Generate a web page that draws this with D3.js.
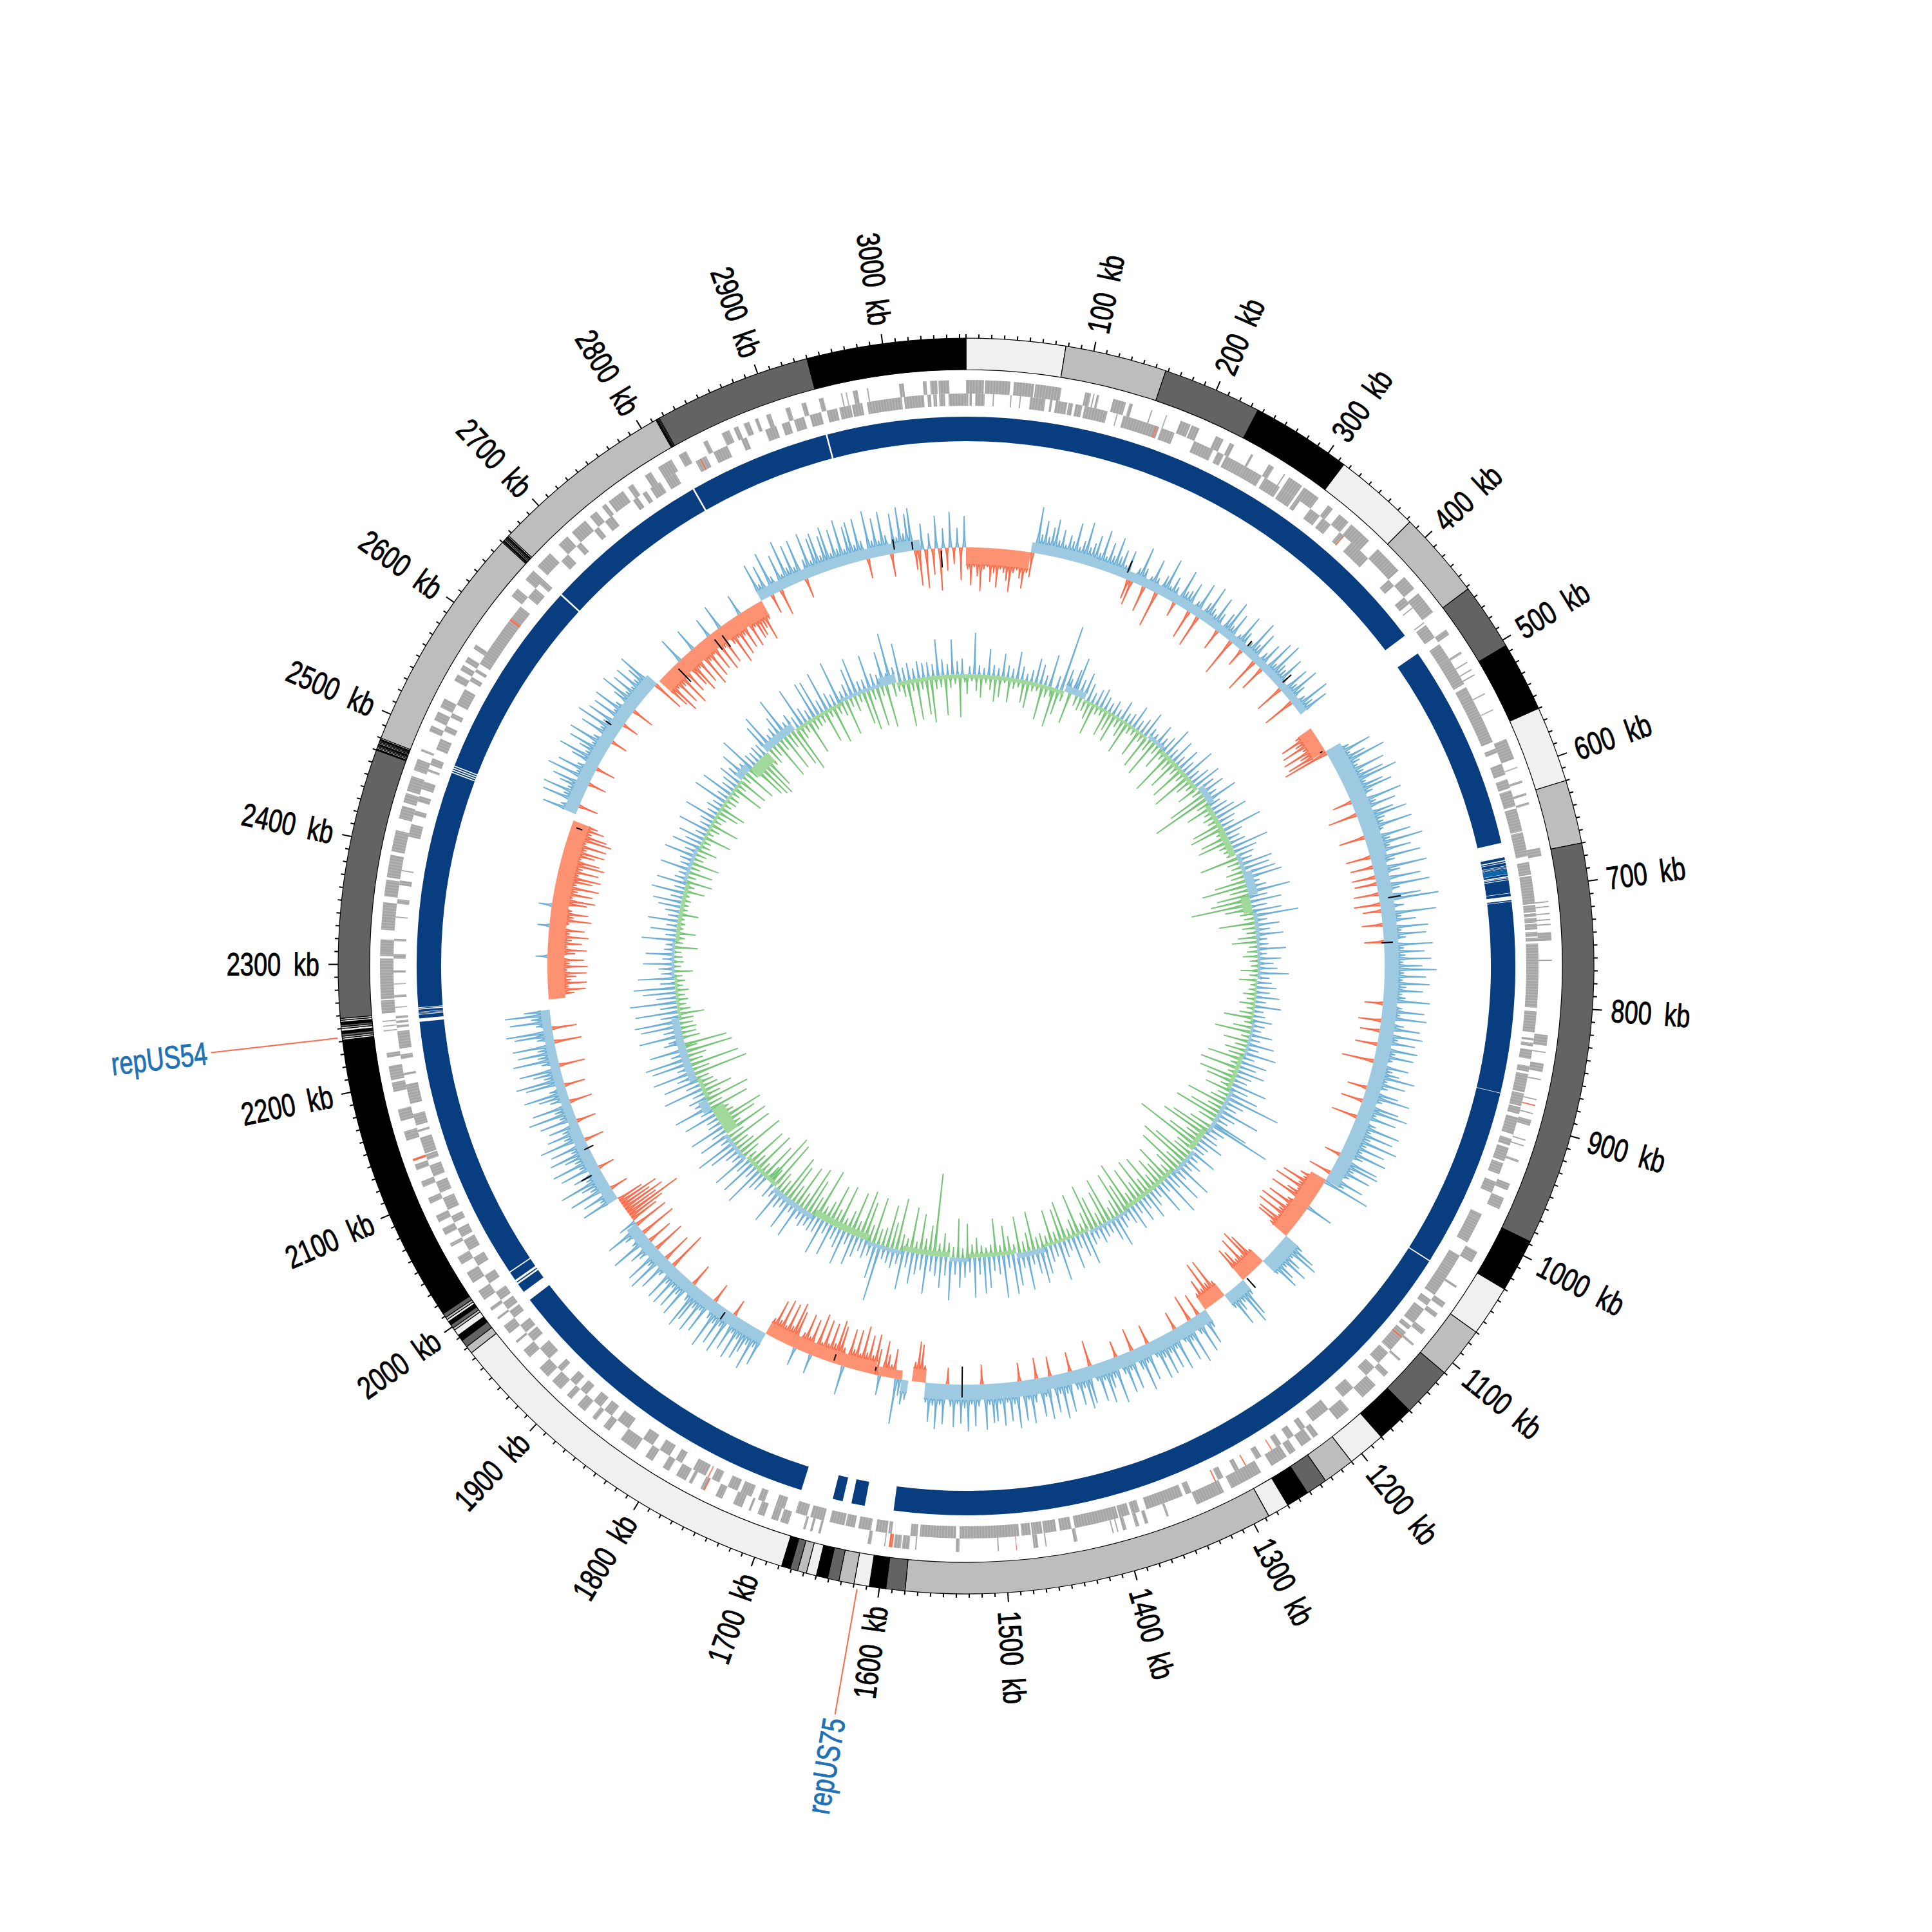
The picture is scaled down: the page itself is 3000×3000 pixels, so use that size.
<!DOCTYPE html>
<html lang="en">

<head>
    <meta charset="UTF-8">
    <title>Circular genome map</title>
    <script src="https://d3js.org/d3.v7.min.js"></script>
    <style>
        body {
            margin: 0;
            background: #fff;
        }

        text {
            font-family: "Liberation Sans", sans-serif;
            font-size: 50px;
            word-spacing: 12px;
            stroke-width: 0.9px;
        }
    </style>
</head>

<body>
    <svg id="map" width="3000" height="3000"></svg>
</body>
<script>
    const genomeLength = 3065;
    const tickLabels = d3.range(100, 3001, 100);
    const ringColors = ["#f0f0f0", "#bdbdbd", "#636363", "#000000"];

    // contig boundaries in kb, colours just cycle through ringColors
    const contigEdges = [0, 78, 158, 236, 315, 383, 452, 505, 560, 620, 670, 988, 1030, 1070, 1110, 1150, 1180, 1210, 1235, 1252, 1270, 1287,
        1580, 1595, 1608, 1620, 1632, 1641, 1650, 1658, 1665, 1671, 1678, 1975, 1981, 1987, 1992, 1997, 1999, 2002, 2005, 2007, 2009, 2012.5,
        2241, 2242.5, 2244, 2246, 2248, 2250, 2251.5, 2253, 2255, 2256.5, 2258, 2470, 2471, 2472, 2473, 2474, 2475, 2476, 2477, 2478, 2479, 2480,
        2660, 2661, 2662, 2663, 2664, 2665, 2666, 2667, 2813, 2813.75, 2814.5, 2815.25, 2816, 2940, 3065];

    const blueBlocks = [[0, 451.5], [471, 656], [669, 671.5], [672.5, 673.5], [674, 676.5], [677, 677.8], [678.2, 678.7], [679, 680], [684.3, 686],
        [687, 687.4], [688, 689], [689.6, 701], [701.4, 704], [707.5, 708.5], [709, 880], [880.4, 1042], [1043, 1597], [1623, 1635], [1643, 1652],
        [1681, 1980], [1989, 1997.5], [1999, 2000], [2002, 2010], [2011, 2249], [2252, 2255.4], [2256, 2256.6], [2257, 2257.6], [2258, 2260],
        [2260.8, 2261.4], [2262, 2474], [2475, 2476], [2477, 2478], [2479, 2480], [2481, 2660], [2661.5, 2811], [2812.5, 2939], [2940.5, 3065]];
    const midBlueBlocks = [[680, 684]];

    const genesOuter = [[0, 15], [16, 37], [40, 57], [58, 80], [100, 105], [107, 108], [110, 112], [124, 135], [138, 141], [157, 158], [170, 171], [183, 192], [193, 200],
        [215, 222], [228, 232], [248, 250], [265, 270], [280, 281], [285, 298], [300, 315], [325, 330], [337, 347], [350, 370], [380, 405], [412, 425], [430, 450],
        [468, 473], [490, 492], [500, 501], [507, 508], [512, 513], [530, 531], [545, 546], [572, 590], [597, 598], [609, 611], [620, 622], [628, 630], [667, 674],
        [712, 713], [716, 717], [722, 723], [727, 728], [731, 732], [738, 745], [761, 762], [824, 833], [838, 839], [848, 855], [861, 862], [878, 879], [890, 891],
        [896, 901], [913, 914], [918, 919], [931, 933], [952, 958], [965, 975], [1015, 1025], [1048, 1050], [1065, 1070], [1076, 1080], [1093, 1098], [1108, 1110],
        [1125, 1127], [1140, 1145], [1155, 1170], [1185, 1198], [1218, 1223], [1225, 1235], [1241, 1247], [1250, 1265], [1275, 1295], [1295, 1303], [1310, 1315],
        [1315, 1335], [1360, 1362], [1378, 1381], [1386, 1389], [1397, 1400], [1404, 1405], [1408, 1409], [1439, 1442], [1465, 1466], [1472, 1476], [1505, 1506],
        [1538, 1541], [1574, 1575], [1580, 1586], [1587, 1593], [1600, 1601], [1612, 1615], [1655, 1657], [1662, 1664], [1668, 1670], [1683, 1690], [1692, 1698],
        [1704, 1710], [1716, 1718], [1724, 1732], [1742, 1748], [1758, 1762], [1770, 1773], [1776, 1785], [1792, 1798], [1808, 1815], [1825, 1840], [1852, 1858],
        [1866, 1870], [1878, 1886], [1893, 1898], [1905, 1915], [1920, 1930], [1942, 1950], [1958, 1960], [1968, 1976], [1983, 1985], [1992, 1995], [2003, 2012],
        [2020, 2030], [2038, 2045], [2055, 2058], [2066, 2072], [2078, 2084], [2095, 2100], [2110, 2115], [2125, 2130], [2151, 2159], [2168, 2178], [2193, 2201],
        [2203, 2215], [2222, 2226], [2244, 2245], [2248, 2249], [2252, 2253], [2259, 2270], [2271, 2305], [2307, 2321], [2329, 2352], [2357, 2371], [2373, 2392],
        [2395, 2413], [2423, 2434], [2437, 2445], [2447, 2460], [2465, 2475], [2482, 2484], [2500, 2505], [2510, 2518], [2522, 2530], [2547, 2553], [2557, 2562],
        [2565, 2570], [2578, 2582], [2632, 2640], [2650, 2660], [2665, 2680], [2690, 2700], [2705, 2720], [2725, 2732], [2738, 2742], [2745, 2760], [2765, 2770],
        [2782, 2788], [2795, 2808], [2815, 2822], [2838, 2842], [2855, 2862], [2866, 2870], [2875, 2880], [2885, 2888], [2895, 2899], [2912, 2916], [2926, 2930],
        [2941, 2945], [2960, 2961], [2964, 2965], [2970, 2974], [2982, 2983], [3009, 3013], [3029, 3032], [3035, 3041], [3042, 3051]];

    const genesInner = [[0, 2], [3, 5], [8, 16], [23, 24], [38, 39], [46, 47], [55, 68], [72, 74], [77, 87], [88, 92], [94, 100], [102, 122], [130, 131], [136, 168], [170, 182],
        [200, 218], [222, 228], [230, 248], [248, 265], [268, 283], [285, 298], [300, 304], [315, 325], [328, 337], [347, 352], [360, 375], [372, 380], [405, 412],
        [425, 432], [436, 437], [452, 453], [455, 468], [475, 490], [490, 515], [518, 525], [525, 570], [576, 580], [590, 600], [604, 612], [614, 628], [630, 650],
        [651, 672], [677, 688], [689, 713], [714, 720], [721, 724], [725, 729], [730, 735], [737, 741], [742, 745], [747, 802], [805, 823], [828, 830], [832, 835],
        [838, 846], [852, 857], [859, 875], [876, 887], [888, 894], [897, 912], [916, 922], [924, 936], [938, 948], [955, 965], [985, 990], [990, 1012], [1025, 1037],
        [1037, 1045], [1045, 1065], [1070, 1076], [1080, 1095], [1098, 1102], [1105, 1125], [1128, 1140], [1145, 1155], [1170, 1182], [1198, 1215], [1223, 1228],
        [1235, 1241], [1248, 1253], [1268, 1273], [1290, 1294], [1305, 1310], [1335, 1340], [1343, 1376], [1382, 1389], [1391, 1400], [1401, 1439], [1442, 1452],
        [1455, 1466], [1467, 1476], [1477, 1485], [1487, 1538], [1541, 1572], [1574, 1580], [1596, 1599], [1600, 1610], [1614, 1625], [1628, 1636], [1637, 1650],
        [1655, 1667], [1670, 1680], [1690, 1698], [1708, 1714], [1720, 1730], [1733, 1742], [1750, 1757], [1763, 1775], [1786, 1792], [1798, 1808], [1815, 1825],
        [1840, 1852], [1858, 1866], [1870, 1878], [1886, 1893], [1898, 1905], [1915, 1920], [1930, 1942], [1950, 1958], [1960, 1968], [1976, 1983], [1985, 1992],
        [1995, 2003], [2012, 2020], [2030, 2038], [2045, 2055], [2058, 2066], [2072, 2078], [2084, 2095], [2100, 2110], [2115, 2125], [2130, 2135], [2136, 2150],
        [2155, 2157], [2161, 2171], [2180, 2197], [2205, 2207], [2219, 2223], [2228, 2243], [2246, 2248], [2250, 2252], [2254, 2256], [2263, 2264], [2272, 2274],
        [2283, 2284], [2293, 2295], [2305, 2309], [2320, 2322], [2340, 2341], [2352, 2356], [2368, 2372], [2380, 2381], [2410, 2421], [2429, 2433], [2441, 2446],
        [2452, 2459], [2468, 2470], [2474, 2480], [2488, 2498], [2505, 2510], [2518, 2522], [2530, 2545], [2553, 2557], [2562, 2565], [2570, 2575], [2575, 2630],
        [2640, 2650], [2655, 2660], [2682, 2690], [2700, 2705], [2720, 2725], [2732, 2740], [2762, 2767], [2772, 2776], [2780, 2790], [2795, 2805], [2825, 2835],
        [2842, 2855], [2868, 2873], [2890, 2900], [2905, 2912], [2916, 2925], [2930, 2940], [2945, 2954], [2956, 2966], [2967, 2976], [2980, 3010], [3012, 3029],
        [3032, 3035], [3037, 3040], [3042, 3047], [3050, 3065]];

    const redGenesOuter = [[1490, 1490.6], [1594, 1597], [883, 884], [1758, 1759], [2133, 2135]];
    const redGenesInner = [[165, 166], [351, 352], [1110, 1111], [1257, 1258], [1283, 1284], [1312, 1313], [1760, 1761], [2615, 2617], [2829, 2830]];

    // spike tips per 100 kb, in track units: above zero outward, below zero inward
    const outerTips = [
        [-34, -58, -30, -44, -67, -33, -29, -52, -38, -60, -31, -36, -48, -65, -35, -30, -42, -57, -32, -38, 72, 30, 52, 28, 44],
        [58, 26, 44, 22, 38, 30, 60, 24, 35, 66, 28, 36, 50, 24, 62, 22, 46, 27, 58, 30, 42, 20, 45, -30, -38],
        [24, 60, 28, -40, 20, 50, 22, -55, 32, 62, 20, 38, 24, -22, 58, 26, 30, 46, -45, 22, 55, -50, 30, 60, 26],
        [20, 52, 28, -32, 36, 60, 22, 46, -60, 18, 55, 30, -28, 20, 62, 26, 50, -55, 24, 44, -40, 58, 22, 64, 30],
        [26, 52, 20, -45, 48, 24, 58, 30, -50, 22, 60, 28, 50, 0, 0, 0, 0, 0, -30, -58, -36, -62, -30, -66, -40],
        [-64, -73, 36, 70, 32, 55, 85, 40, 34, 75, 38, 68, 88, 34, 60, 72, 38, -30, 80, 36, 66, -45, 58, 78, 40],
        [36, 80, 32, -40, 72, 38, 88, 34, 66, -38, 78, 36, -35, 84, 40, -36, 70, -34, 82, 34, -38, 65, 92, -40, 36],
        [-28, 85, 30, 52, -32, 70, 28, 66, 34, -30, 75, 30, 62, 32, 72, 28, 58, 80, 30, 64, 28, 70, 34, 60, 28],
        [34, 72, -28, 30, 65, 28, 70, -35, 36, 62, -30, 68, 30, 58, -34, 64, 30, 60, 28, -50, 56, 32, 44, 70, 28],
        [58, 32, -30, 52, 72, 30, -34, 60, 76, 28, 62, -40, 34, 74, 30, 68, 34, 80, 32, 64, 30, 72, 36, -25, 66],
        [70, 32, 62, 30, -35, 60, 30, 75, -40, -32, -65, -34, -72, -30, -45, -70, 42, -34, -65, -30, -72, -36, -70, -30, -62],
        [-60, -34, 34, 60, 70, 30, 48, 65, 32, 50, 62, 30, -28, -60, -72, -30, -66, -32, -50, -58, 26, 60, 70, 28, 38],
        [60, 26, -30, -70, -34, -72, -30, -48, -28, 30, 55, -35, 62, 28, -42, 70, 30, 60, 26, -28, 66, 28, 58, 30, 62],
        [32, 64, 26, -30, 58, 28, 70, 34, -35, 60, 28, 62, 30, -25, 72, 30, 44, 66, 28, 60, 26, -40, 58, 65, 30],
        [56, 30, -30, 62, 32, 70, 30, 58, -30, 66, 30, 60, -32, 36, 68, 30, 62, -28, 72, 34, 60, 30, 66, 32, 58],
        [60, 32, 70, -30, 34, 64, 30, 72, 36, 60, 30, 66, 34, -25, 62, 32, 70, 34, 60, 30, -26, -58, -62, -30, 0],
        [30, 38, 25, 70, -45, -20, -35, -55, 30, -40, -62, -28, -58, -30, -70, -26, -62, -30, -60, 45, -28, -60, -68, -30, -60],
        [-26, -62, -24, -68, 30, -55, -26, -60, -28, 28, -58, -70, -30, -64, -26, -66, -30, -60, -28, 55, 28, 68, 30, 46, 60],
        [30, 66, 26, 58, -25, 70, 28, 62, 30, 75, 28, -30, 60, 26, 68, 30, 56, 72, 28, -35, 64, 30, 58, 26, 62],
        [28, 60, -60, 26, 56, -45, 68, 28, 62, -50, 30, 42, -40, 66, 26, -58, 30, 58, -55, 28, -45, -60, -92, -55, -70],
        [-50, -65, -42, 60, 26, 52, -28, 68, 30, 42, 75, 28, 46, -25, 62, 28, 70, 30, 44, 66, 28, 60, -30, 72, 30],
        [55, 28, 48, -30, 58, 24, 72, 28, 62, -35, 30, 46, 68, 26, -32, 60, 74, 28, 44, 64, -40, 26, 70, 30, 60],
        [28, 66, -42, 26, 60, 72, -38, 24, 64, 30, 70, 40, 0, 0, 0, 0, -40, -58, -32, -60, -36, -44, -60, -30, -62],
        [-34, -56, 18, -42, -60, -30, -52, -36, -62, -32, -55, 18, -30, -64, -36, -58, -32, 20, -54, -66, -30, -60, -36, -68, -32],
        [-56, -68, -32, -62, -36, -69, -60, -30, -50, -64, -34, -64, -30, -69, -60, -34, -52, -40, 0, 0, 55, 28, -30, 62, 30],
        [66, 28, 44, 58, -28, 72, 26, 60, 30, -30, 46, 70, 28, 42, 62, 26, 68, 30, -25, 58, 28, 72, 30, 60, -25],
        [58, 26, 64, 30, -35, 42, 68, 28, 56, 26, 60, 30, 46, 66, -50, 0, -55, -70, -30, -62, -34, -72, -30, -58, 40],
        [-54, -68, -30, -60, 35, -72, -32, -64, -28, -58, 30, -66, -30, -60, 38, -34, -70, -30, -62, -32, -56, 32, -60, -30, -52],
        [-50, -40, -62, -30, 60, 24, 52, -30, 68, 26, -40, 56, 22, 74, 28, 62, 24, 66, -30, 30, 70, 24, 58, 64, 26],
        [56, 68, 24, 60, 28, 72, 24, 58, 64, 26, 66, 30, -30, 74, 26, 60, 24, 68, 30, -35, 62, 24, 70, 28, 58],
        [66, -30, -55, 40, -60, 24, -40, 50, -65, 30, -35, 55, -25, 30, -50, 48]
    ];

    const innerTips = [
        [-30, 12, -10, 64, -25, 14, -35, 10, -12, 40, -22, 16, -40, 12, -32, 35, -9, 18, -38, 14, -16, 42, -12, 20, -35],
        [10, -42, 18, -14, 38, -12, 30, -55, 15, -18, 50, -14, -62, 20, -40, 103, -16, 36, 22, -48, 40, 60, -15, 28, -20],
        [42, -18, 28, -28, 16, -50, 25, -14, 30, -12, 20, -42, 14, -30, 22, -45, 12, -16, 30, -28, 14, -52, 18, -14, 36],
        [-12, 16, -44, 24, -14, 40, -55, 18, -20, 14, -60, 35, -15, 18, -35, 26, -14, 48, -70, 16, -22, 38, -50, 16, -18],
        [35, -58, 20, -18, 50, -65, 18, -28, 30, -16, 44, -35, 28, -14, 40, -60, 22, -92, 52, -20, 18, -42, 26, -16, 34],
        [-22, 50, -18, 26, -48, 20, -55, 62, -15, 26, -44, 18, -52, 24, -20, 58, -16, 36, -14, 28, -60, 22, -18, 52, -14],
        [45, -25, 52, -20, 60, -48, 22, -70, 30, -28, 66, -50, 28, -62, 48, -94, 24, -42, 45, -20, 70, -15, 20, -55, 38],
        [-20, 22, -14, 42, -28, 16, -38, 18, -12, 44, -16, 14, -22, 36, -12, 24, -10, 30, -26, 48, -12, 18, -28, 22, -10],
        [30, -12, 20, -20, 36, -14, 16, -24, 40, -12, 14, -22, 18, -45, 30, -12, 20, -28, 16, -55, 35, -12, 18, -38, 42],
        [-18, 20, -32, 50, -24, 18, -55, 40, -16, 26, -62, 42, -15, 24, -58, 20, -44, 55, -18, 28, -40, 48, -16, 88, -25],
        [32, -60, 24, -22, 66, -48, 30, -70, 22, -26, 60, 100, -35, 28, -62, 20, -75, 26, -28, 40, -55, 20, -106, 18, -30],
        [44, -30, 18, -62, 30, -80, 20, -28, 60, -72, 22, -36, 55, -20, 24, -60, 65, -35, 18, -48, 50, -25, 16, -62, 26],
        [-28, 42, -66, 20, -32, 36, -60, 18, -22, 40, -78, 25, -45, 16, -68, 24, -26, 50, -18, 36, -70, 20, -52, 22, -20],
        [28, -50, 18, -72, 24, -30, 52, -15, 36, -66, 20, -28, 50, -16, 18, -62, 26, -52, 60, -18, 20, -55, 26, -16, 42],
        [-22, 55, -18, 38, -60, 22, -28, 60, -16, 24, -56, 50, -14, 62, -28, 20, -45, 66, -16, 28, -58, 22, -18, 48, -14],
        [56, -18, 26, -30, 62, -20, 22, -52, 30, -14, 46, -60, 26, -16, 66, -22, 28, -36, 48, -20, 30, -128, 24, -46, 60],
        [-25, 24, -62, 32, -18, 48, -70, 24, -20, 60, -25, 22, -80, 30, -40, 24, -66, 20, -28, 89, -24, 55, -72, 22, -26],
        [28, -60, 20, -76, 32, -24, 48, -68, 18, -35, 54, -20, 30, -70, 20, -28, 50, -64, 18, -34, 56, -22, 24, -80, 26],
        [-30, 22, -55, 28, -72, 20, -24, 56, -66, 18, -28, 52, -58, 20, -70, 26, -22, 58, -30, 18, -80, 24, -26, -86, -26],
        [24, -60, 28, -20, 64, -70, 20, -24, 58, -66, 24, -18, 60, -28, 20, -76, 26, -30, 48, -24, 66, -70, 18, -26, 50],
        [-72, 24, -30, 56, -60, 20, -75, 18, -30, 52, -26, 20, -62, 60, -22, 22, -70, 28, -26, 18, -48, 62, -28, 22, -24],
        [55, -20, 30, -85, 66, -26, 24, -76, 62, -20, 70, -28, 26, -72, 58, -18, -66, 32, 24, -26, 68, -22, 28, -24, 62],
        [-20, 70, -22, 28, -40, 66, -20, 26, -14, 72, -18, 30, -14, 50, -20, 64, -12, 22, -16, 56, -12, 20, -28, 24, -10],
        [48, -14, 18, -12, 44, -10, 16, -35, 14, -12, 52, -14, 16, -30, 40, -10, 16, -12, 46, -10, 16, -30, 22, -12, 34],
        [-12, 44, -14, 18, -10, 50, -32, 16, -14, 46, -40, 20, -12, 16, -36, 48, -14, 18, -42, 22, -14, 50, -16, 20, -30],
        [44, -16, 26, -14, 40, -44, 16, -12, 48, -18, 16, -46, 20, -14, 50, -18, 16, -34, 22, -42, 16, -14, 54, -18, 18],
        [-18, 50, -14, 20, -50, 24, -16, 36, -48, 26, -14, 44, -52, 18, -16, 58, -60, 20, -66, 18, -70, 22, -58, 20, -24],
        [48, -26, 60, -18, 20, -62, 26, -18, 40, -58, 66, -24, 20, -60, 28, -74, 18, -22, 62, -16, 24, -56, 16, -20, 58],
        [-18, 56, -16, 20, -52, 62, -14, 24, -60, 18, -16, 68, -22, 16, -56, 24, -14, 46, -24, 60, -12, 20, -50, 20, -62],
        [56, -16, 24, -60, 20, -14, 54, -66, 18, 80, -20, 24, -14, 60, -24, 20, -72, 26, -18, 16, -64, 26, -18, 22, -58],
        [22, -71, 18, -20, 56, -18, 24, -62, 16, -20, 54, -14, 20, -66, 24, -12]
    ];

    // [start kb, end kb, solid band level]
    const outerBands = [[0, 78, -26], [78, 150, 16], [150, 300, 14], [300, 452, 12], [471, 505, -22], [505, 640, 26], [640, 800, 22], [800, 1030, 22],
        [1030, 1110, -26], [1110, 1150, 24], [1150, 1180, -24], [1180, 1210, 18], [1210, 1235, -22], [1235, 1440, 20], [1440, 1580, 24], [1580, 1595, -20],
        [1602, 1610, 18], [1610, 1635, -14], [1640, 1775, -20], [1775, 1975, 18], [2013, 2110, 18], [2110, 2247, 14], [2262, 2472, -26], [2480, 2660, 20],
        [2664, 2815, -24], [2815, 3012, 16]];
    const innerBands = [[0, 170, -6], [170, 205, 10], [205, 330, -4], [330, 360, 6], [360, 450, -6], [450, 480, 10], [480, 530, -7], [530, 575, -10], [575, 610, 6],
        [610, 650, 14], [650, 675, -14], [675, 720, 6], [720, 790, 4], [790, 860, -3], [860, 920, 4], [920, 980, -6], [980, 1060, 6], [1060, 1100, -8], [1100, 1150, 6],
        [1150, 1250, -6], [1250, 1320, 5], [1320, 1400, -4], [1400, 1450, 8], [1450, 1530, -6], [1530, 1560, 6], [1560, 1640, -8], [1640, 1700, 6], [1700, 1800, -10],
        [1800, 1880, 8], [1880, 1950, -6], [1950, 2000, 6], [2000, 2050, -20], [2050, 2070, 14], [2070, 2105, -6], [2105, 2213, 12], [2213, 2280, -4], [2280, 2340, 4],
        [2340, 2440, -6], [2440, 2500, 5], [2500, 2635, -4], [2635, 2660, 12], [2660, 2700, -18], [2700, 2760, 12], [2760, 2850, -5], [2850, 2920, 5], [2920, 2950, 14],
        [2950, 3065, -6]];

    // short black marks on the outer track: [kb, from, to]
    const blackMarks = [[190, 10, 30], [352, 12, 22], [410, 10, 28], [502, -4, -8], [688, 14, 34], [739, -4, 14], [1175, 2, 22], [1537, -28, 20], [1640, -12, -6],
        [1690, -14, -4], [1829, 5, 18], [2050, 16, 34], [2080, -8, 8], [2465, -18, -8], [2590, 16, 26], [2690, -36, -8], [2745, -30, -10], [2755, -34, -12],
        [2982, 6, 22], [3003, 2, 14], [3036, -30, -4]];

    const repeatNames = ["repUS54", "repUS75"];
    const repeatPositions = [2243, 1617];

    const svg = d3.select("#map");
    const root = svg.append("g").attr("transform", "translate(1500,1500)");

    const angle = d3.scaleLinear().domain([0, genomeLength]).range([0, 2 * Math.PI]);
    const deg = kb => angle(kb) * 180 / Math.PI;
    const polar = (kb, r) => [r * Math.sin(angle(kb)), -r * Math.cos(angle(kb))];

    function arcPath(r0, r1) {
        return d3.arc().innerRadius(r0).outerRadius(r1)
            .startAngle(d => angle(d[0])).endAngle(d => angle(d[1]));
    }

    // Contig ring
    const contigs = d3.pairs(contigEdges);
    root.append("g").selectAll("path").data(contigs).join("path")
        .attr("d", arcPath(926, 975))
        .attr("fill", (d, i) => ringColors[i % 4])
        .attr("stroke", "#000")
        .attr("stroke-width", 1.2);

    // Ticks and labels
    root.append("g").selectAll("line").data(d3.range(0, genomeLength, 10)).join("line")
        .attr("x1", d => polar(d, 975)[0]).attr("y1", d => polar(d, 975)[1])
        .attr("x2", d => polar(d, d % 100 === 0 && d > 0 ? 990 : 981)[0])
        .attr("y2", d => polar(d, d % 100 === 0 && d > 0 ? 990 : 981)[1])
        .attr("stroke", "#000").attr("stroke-width", 2);

    function radialText(sel, kb, r, label, color) {
        const a = deg(kb);
        const [x, y] = polar(kb, r);
        const right = a < 180;
        sel.append("text")
            .attr("transform", `translate(${x},${y}) rotate(${right ? a - 90 : a + 90}) scale(0.76,1)`)
            .attr("text-anchor", right ? "start" : "end")
            .attr("dy", "0.35em")
            .attr("fill", color)
            .attr("stroke", color)
            .text(label);
    }

    const labels = root.append("g");
    tickLabels.forEach(kb => radialText(labels, kb, 1004, `${kb} kb`, "#000"));

    // Gene tracks
    const genes = root.append("g");
    function geneTrack(blocks, r0, r1, color) {
        genes.append("g").selectAll("path").data(blocks).join("path")
            .attr("d", arcPath(r0, r1))
            .attr("fill", color);
    }
    geneTrack(genesOuter, 889, 910, "#a6a6a6");
    geneTrack(genesInner, 870, 889, "#a6a6a6");
    geneTrack(redGenesOuter, 889, 910, "#fb6a4a");
    geneTrack(redGenesInner, 870, 889, "#fb6a4a");

    // fine gene separators over the grey blocks
    genes.append("circle")
        .attr("r", 890)
        .attr("fill", "none")
        .attr("stroke", "#fff")
        .attr("stroke-width", 42)
        .attr("stroke-opacity", 0.3)
        .attr("stroke-dasharray", "0.8 3.7");

    // Solid blue ring
    root.append("g").selectAll("path").data(blueBlocks).join("path")
        .attr("d", arcPath(815, 853))
        .attr("fill", "#083d7f");
    root.append("g").selectAll("path").data(midBlueBlocks).join("path")
        .attr("d", arcPath(815, 853))
        .attr("fill", "#0a66ab");

    // Spiky tracks. Each tip stands on the solid band with a flared foot.
    function bandAt(bands, kb) {
        const b = bands.find(d => kb >= d[0] && kb < d[1]);
        return b ? b[2] : 0;
    }

    function trackPoints(tips, bands) {
        const pts = [];
        tips.forEach((row, k) => {
            const from = k * 100;
            const to = Math.min(from + 100, genomeLength);
            const step = (to - from) / row.length;
            row.forEach((tip, j) => {
                const a = from + j * step;
                const mid = a + step / 2;
                const band = bandAt(bands, mid);
                const up0 = Math.max(band, 0);
                const down0 = Math.min(band, 0);
                const edgeUp = tip > 0;
                const edgeDown = tip < 0;
                const upFoot = tip > 0 ? up0 + 0.3 * (tip - up0) : up0;
                const downFoot = tip < 0 ? down0 + 0.3 * (tip - down0) : down0;
                pts.push({ kb: a, up: up0, down: down0, edgeUp: false, edgeDown: false });
                pts.push({ kb: mid - step * 0.42, up: up0, down: down0, edgeUp, edgeDown });
                pts.push({ kb: mid - step * 0.14, up: upFoot, down: downFoot, edgeUp, edgeDown });
                pts.push({ kb: mid, up: tip > 0 ? tip : up0, down: tip < 0 ? tip : down0, edgeUp, edgeDown });
                pts.push({ kb: mid + step * 0.14, up: upFoot, down: downFoot, edgeUp, edgeDown });
                pts.push({ kb: mid + step * 0.42, up: up0, down: down0, edgeUp, edgeDown });
            });
        });
        return pts;
    }

    function drawTrack(pts, radius, side, flag, fillColor, lineColor) {
        const isOn = (d, i) => d[side] !== 0 ||
            (pts[i - 1] && pts[i - 1][side] !== 0) ||
            (pts[i + 1] && pts[i + 1][side] !== 0);
        root.append("path").datum(pts)
            .attr("d", d3.areaRadial()
                .defined(isOn)
                .angle(d => angle(d.kb))
                .innerRadius(radius(0))
                .outerRadius(d => radius(d[side])))
            .attr("fill", fillColor);
        root.append("path").datum(pts)
            .attr("d", d3.lineRadial()
                .defined(d => d[flag])
                .angle(d => angle(d.kb))
                .radius(d => radius(d[side])))
            .attr("fill", "none")
            .attr("stroke", lineColor)
            .attr("stroke-width", 1.8)
            .attr("stroke-linejoin", "round");
    }

    const outerRadius = d3.scaleLinear().domain([-100, 100]).range([550, 750]);
    const innerRadius = d3.scaleLinear().domain([-130, 100]).range([323, 553]);

    const outerPts = trackPoints(outerTips, outerBands);
    drawTrack(outerPts, outerRadius, "up", "edgeUp", "#9ecae1", "#6baed6");
    drawTrack(outerPts, outerRadius, "down", "edgeDown", "#fc9272", "#fb6a4a");

    const innerPts = trackPoints(innerTips, innerBands);
    drawTrack(innerPts, innerRadius, "up", "edgeUp", "#9ecae1", "#6baed6");
    drawTrack(innerPts, innerRadius, "down", "edgeDown", "#a1d99b", "#74c476");

    root.append("g").selectAll("line").data(blackMarks).join("line")
        .attr("x1", d => polar(d[0], outerRadius(d[1]))[0]).attr("y1", d => polar(d[0], outerRadius(d[1]))[1])
        .attr("x2", d => polar(d[0], outerRadius(d[2]))[0]).attr("y2", d => polar(d[0], outerRadius(d[2]))[1])
        .attr("stroke", "#000").attr("stroke-width", 2);

    // Repeat labels
    repeatNames.forEach((name, i) => {
        const kb = repeatPositions[i];
        const [x1, y1] = polar(kb, 982);
        const [x2, y2] = polar(kb, 1180);
        root.append("line")
            .attr("x1", x1).attr("y1", y1).attr("x2", x2).attr("y2", y2)
            .attr("stroke", "#fb6a4a").attr("stroke-width", 2);
        radialText(root, kb, 1186, name, "#2171b5");
    });
</script>

</html>
